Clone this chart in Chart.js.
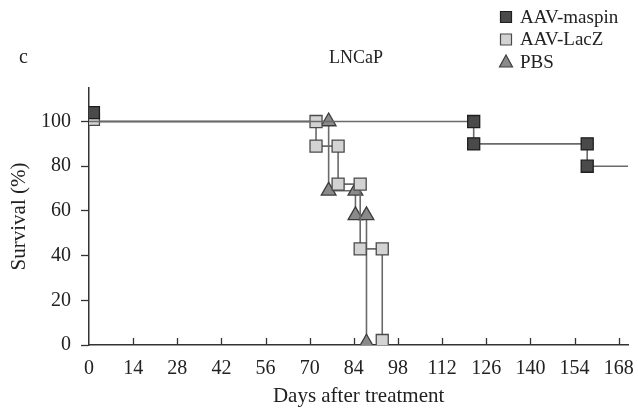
<!DOCTYPE html>
<html>
<head>
<meta charset="utf-8">
<script src="https://cdn.jsdelivr.net/npm/chart.js@4/dist/chart.umd.min.js"></script>
<style>
  html, body { margin: 0; padding: 0; background: #fff; }
  canvas { display: block; }
</style>
</head>
<body>
<canvas id="survival" width="638" height="410"></canvas>
<script>
// Axis ticks
const xTicks = [0, 14, 28, 42, 56, 70, 84, 98, 112, 126, 140, 154, 168];
const yTicks = [0, 20, 40, 60, 80, 100];

// Kaplan-Meier curves (duplicate days give the vertical drops)
const maspinDays = [0, 122, 122, 158, 158, 171];
const maspinSurvival = [100, 100, 90, 90, 80, 80];
const maspinMarks = [0, 8.5, 8.5, 8.5, 8.5, 0];

const laczDays = [0, 72, 72, 79, 79, 86, 86, 93, 93];
const laczSurvival = [100, 100, 89, 89, 72, 72, 43, 43, 2];
const laczMarks = [0, 8.5, 8.5, 8.5, 8.5, 8.5, 8.5, 8.5, 8.5];

const pbsDays = [0, 76, 76, 84.5, 84.5, 88, 88];
const pbsSurvival = [100, 100, 69, 69, 58, 58, 1];
const pbsMarks = [0, 8.5, 8.5, 8.5, 8.5, 8.5, 8.5];

// Markers at day 0, nudged apart so both show
const startDays = [1.4, 1.4];
const startSurvival = [101, 104];

const seriesNames = ['AAV-maspin', 'AAV-LacZ', 'PBS'];
const fills = ['#4a4a4a', '#d3d3d3', '#8a8a8a'];
const borders = ['#1e1e1e', '#4a4a4a', '#3c3c3c'];
const shapes = ['rect', 'rect', 'triangle'];

const FONT = "'Liberation Serif', 'DejaVu Serif', serif";
const INK = '#222';

function toPoints(xs, ys) {
    return xs.map((x, i) => ({ x: x, y: ys[i] }));
}

function curve(idx, xs, ys, radii) {
    return {
        label: seriesNames[idx],
        data: toPoints(xs, ys),
        showLine: true,
        borderColor: '#6a6a6a',
        borderWidth: 1.6,
        pointRadius: radii,
        pointHoverRadius: radii,
        pointStyle: shapes[idx],
        pointBackgroundColor: fills[idx],
        pointBorderColor: borders[idx],
        pointBorderWidth: 1.3
    };
}

// x tick marks point up into the plot, and the free text / legend
const extras = {
    id: 'extras',
    afterDraw(chart) {
        const ctx = chart.ctx;
        const x = chart.scales.x;
        const bottom = chart.chartArea.bottom;
        ctx.save();
        ctx.strokeStyle = '#333';
        ctx.lineWidth = 1.3;
        xTicks.forEach(t => {
            if (t === 0) return;
            const px = Math.round(x.getPixelForValue(t)) + 0.5;
            ctx.beginPath();
            ctx.moveTo(px, bottom);
            ctx.lineTo(px, bottom - 7);
            ctx.stroke();
        });

        ctx.fillStyle = INK;
        ctx.textBaseline = 'middle';
        ctx.font = '20px ' + FONT;
        ctx.textAlign = 'left';
        ctx.fillText('c', 19, 58);
        ctx.font = '18px ' + FONT;
        ctx.textAlign = 'center';
        ctx.fillText('LNCaP', 356, 58);

        // legend
        ctx.textAlign = 'left';
        ctx.font = '19px ' + FONT;
        seriesNames.forEach((name, i) => {
            const cy = 17 + i * 22.5;
            const cx = 506;
            ctx.fillStyle = fills[i];
            ctx.strokeStyle = borders[i];
            ctx.lineWidth = 1.2;
            ctx.beginPath();
            if (shapes[i] === 'rect') {
                ctx.rect(cx - 5.5, cy - 5.5, 11, 11);
            } else {
                ctx.moveTo(cx, cy - 7);
                ctx.lineTo(cx + 6.5, cy + 5);
                ctx.lineTo(cx - 6.5, cy + 5);
                ctx.closePath();
            }
            ctx.fill();
            ctx.stroke();
            ctx.fillStyle = INK;
            ctx.fillText(name, 520, cy + 1);
        });
        ctx.restore();
    }
};

new Chart(document.getElementById('survival').getContext('2d'), {
    type: 'scatter',
    data: {
        datasets: [
            curve(0, maspinDays, maspinSurvival, maspinMarks),
            {
                label: 'start',
                data: toPoints(startDays, startSurvival),
                showLine: false,
                pointRadius: 8.5,
                pointStyle: 'rect',
                pointBackgroundColor: [fills[1], fills[0]],
                pointBorderColor: [borders[1], borders[0]],
                pointBorderWidth: 1.3
            },
            curve(1, laczDays, laczSurvival, laczMarks),
            curve(2, pbsDays, pbsSurvival, pbsMarks)
        ]
    },
    options: {
        responsive: false,
        animation: false,
        layout: { padding: { top: 88, left: 0, right: 6, bottom: 0 } },
        plugins: {
            legend: { display: false },
            title: { display: false },
            tooltip: { enabled: false }
        },
        scales: {
            x: {
                type: 'linear',
                min: 0,
                max: 171,
                afterBuildTicks: axis => { axis.ticks = xTicks.map(v => ({ value: v })); },
                afterFit: axis => { axis.height = 65; axis.paddingLeft = 0; axis.paddingRight = 0; },
                grid: { display: false },
                border: { display: true, color: '#333', width: 1.5 },
                ticks: {
                    padding: 4,
                    color: INK,
                    autoSkip: false,
                    maxRotation: 0,
                    font: { family: FONT, size: 20 }
                },
                title: {
                    display: true,
                    text: 'Days after treatment',
                    color: INK,
                    padding: { top: 0, bottom: 1 },
                    font: { family: FONT, size: 21 }
                }
            },
            y: {
                min: 0,
                max: 115,
                afterBuildTicks: axis => { axis.ticks = yTicks.map(v => ({ value: v })); },
                afterFit: axis => { axis.width = 89; axis.paddingTop = 0; axis.paddingBottom = 0; },
                grid: {
                    drawOnChartArea: false,
                    drawTicks: true,
                    tickLength: 8,
                    tickColor: '#333',
                    tickWidth: 1.3
                },
                border: { display: true, color: '#333', width: 1.5 },
                ticks: {
                    padding: 10,
                    color: INK,
                    font: { family: FONT, size: 20 }
                },
                title: {
                    display: true,
                    text: 'Survival (%)',
                    color: INK,
                    padding: { top: 7, bottom: 0 },
                    font: { family: FONT, size: 21 }
                }
            }
        }
    },
    plugins: [extras]
});
</script>
</body>
</html>
